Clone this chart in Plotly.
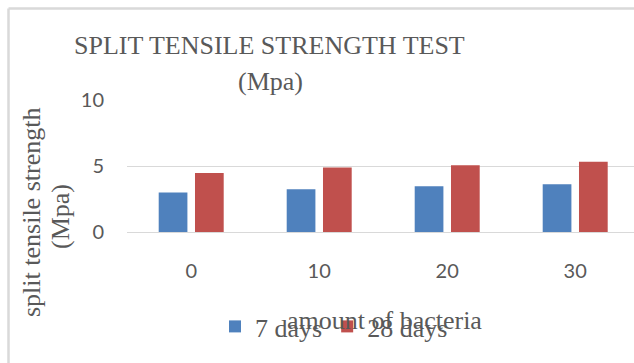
import plotly.graph_objects as go

# Bacteria dosage groups and split tensile strength (MPa)
bacteria_amount = ["0", "10", "20", "30"]
strength_7_days = [3.0, 3.23, 3.46, 3.61]
strength_28_days = [4.47, 4.88, 5.05, 5.33]
series_names = ["7 days", "28 days"]
y_ticks = [0, 5, 10]

W, H = 634, 363
ML, MR, MT, MB = 127, 0, 100, 131
PW, PH = W - ML - MR, H - MT - MB


def px_x(x):
    return (x - ML) / PW


def px_y(y):
    return (H - MB - y) / PH


GREY = "#595959"
SERIF = "Liberation Serif, Times New Roman, serif"
SANS = "Lato, Carlito, Calibri, sans-serif"

fig = go.Figure()
fig.add_trace(go.Bar(x=bacteria_amount, y=strength_7_days, name=series_names[0],
                     marker=dict(color="#4F81BD", line=dict(width=0))))
fig.add_trace(go.Bar(x=bacteria_amount, y=strength_28_days, name=series_names[1],
                     marker=dict(color="#C0504D", line=dict(width=0))))

cat_px = 128.0
x0 = -(191.2 - ML) / cat_px
fig.update_layout(
    width=W, height=H,
    margin=dict(l=ML, r=MR, t=MT, b=MB, pad=0),
    paper_bgcolor="white", plot_bgcolor="white",
    barmode="group", bargap=0.433, bargroupgap=0.209,
    showlegend=True,
    legend=dict(orientation="h", x=px_x(334), xanchor="center",
                y=px_y(326.5), yanchor="middle",
                font=dict(family=SERIF, size=26, color=GREY),
                bgcolor="rgba(0,0,0,0)", itemwidth=30, tracegroupgap=0),
    xaxis=dict(type="category", range=[x0, x0 + PW / cat_px],
               showgrid=False, showline=False, zeroline=False, ticks="",
               tickfont=dict(family=SANS, size=20, color=GREY),
               ticklabelstandoff=25),
    yaxis=dict(range=[0, 10], tickvals=y_ticks, showgrid=True,
               gridcolor="#d9d9d9", gridwidth=1, zeroline=True,
               zerolinecolor="#d9d9d9", zerolinewidth=1, showline=False,
               ticks="", tickfont=dict(family=SANS, size=20, color=GREY),
               ticklabelstandoff=22),
)

annotations = [
    dict(text="SPLIT TENSILE STRENGTH TEST", x=px_x(269), y=px_y(46)),
    dict(text="(Mpa)", x=px_x(270), y=px_y(82)),
    dict(text="amount of bacteria", x=px_x(384), y=px_y(320)),
    dict(text="split tensile strength", x=px_x(31), y=px_y(213), textangle=-90),
    dict(text="(Mpa)", x=px_x(60), y=px_y(217), textangle=-90),
]
for a in annotations:
    fig.add_annotation(xref="paper", yref="paper", showarrow=False,
                       xanchor="center", yanchor="middle",
                       font=dict(family=SERIF, size=26, color=GREY), **a)

# Chart frame (top and left edges)
border = dict(type="line", xref="paper", yref="paper",
              line=dict(color="#d9d9d9", width=2.5))
fig.add_shape(x0=px_x(8.5), x1=px_x(W + 5), y0=px_y(8.5), y1=px_y(8.5), **border)
fig.add_shape(x0=px_x(8.5), x1=px_x(8.5), y0=px_y(8.5), y1=px_y(H + 5), **border)

fig.write_html("out.html")
